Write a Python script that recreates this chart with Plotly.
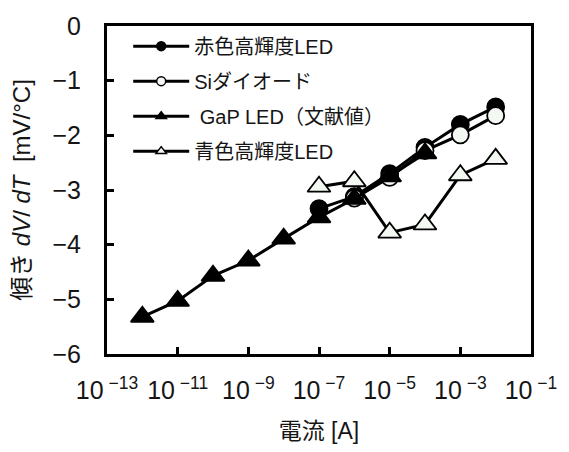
import plotly.graph_objects as go

# Forward-voltage temperature coefficient vs. drive current
red_x = [1e-7, 1e-6, 1e-5, 1e-4, 1e-3, 1e-2]
red_y = [-3.34, -3.12, -2.70, -2.22, -1.80, -1.48]

si_x = [1e-6, 1e-5, 1e-4, 1e-3, 1e-2]
si_y = [-3.15, -2.77, -2.28, -1.99, -1.64]

gap_x = [1e-12, 1e-11, 1e-10, 1e-9, 1e-8, 1e-7, 1e-6, 1e-5, 1e-4]
gap_y = [-5.32, -5.03, -4.57, -4.29, -3.89, -3.50, -3.16, -2.75, -2.33]

blue_x = [1e-7, 1e-6, 1e-5, 1e-4, 1e-3, 1e-2]
blue_y = [-2.94, -2.84, -3.78, -3.63, -2.73, -2.43]

series_names = ["赤色高輝度LED", "Siダイオード", " GaP LED（文献値）", "青色高輝度LED"]

x_tick_vals = [1e-13, 1e-11, 1e-9, 1e-7, 1e-5, 1e-3, 1e-1]
x_tick_text = ["10<sup> −13</sup>", "10<sup> −11</sup>", "10<sup> −9</sup>", "10<sup> −7</sup>",
               "10<sup> −5</sup>", "10<sup> −3</sup>", "10<sup> −1</sup>"]
y_tick_vals = [0, -1, -2, -3, -4, -5, -6]
y_tick_text = ["0", "−1", "−2", "−3", "−4", "−5", "−6"]

FONT = "Liberation Sans Narrow, Liberation Sans, Noto Sans CJK JP"
TEXT_COLOR = "#151515"
OPEN_FILL = "#f3f8f2"

styles = [
    dict(symbol="circle", color="black", size=17),
    dict(symbol="circle", color=OPEN_FILL, size=17),
    dict(symbol="triangle-up", color="black", size=20),
    dict(symbol="triangle-up", color=OPEN_FILL, size=20),
]
data = [(red_x, red_y), (si_x, si_y), (gap_x, gap_y), (blue_x, blue_y)]

fig = go.Figure()

for (xs, ys), st in zip(data, styles):
    fig.add_trace(go.Scatter(
        x=xs, y=ys, mode="lines+markers", showlegend=False,
        line=dict(color="black", width=3),
        marker=dict(symbol=st["symbol"], size=st["size"], color=st["color"],
                    line=dict(color="black", width=1.8)),
    ))

# legend entries with smaller symbols
for i, (name, st) in enumerate(zip(series_names, styles)):
    fig.add_trace(go.Scatter(
        x=[None], y=[None], mode="lines+markers", name=name,
        legendgroup=f"g{i}",
        line=dict(color="black", width=3),
        marker=dict(symbol=st["symbol"], size=9, color=st["color"],
                    line=dict(color="black", width=1.5)),
    ))

fig.update_layout(
    width=569, height=452,
    margin=dict(l=107, r=31, t=16, b=94),
    paper_bgcolor="white", plot_bgcolor="white",
    font=dict(family=FONT, color=TEXT_COLOR, size=20),
    showlegend=True,
    legend=dict(
        x=0.05, y=0.998, xanchor="left", yanchor="top",
        bgcolor="rgba(0,0,0,0)", borderwidth=0,
        itemwidth=56, tracegroupgap=6, traceorder="grouped",
        font=dict(family=FONT, size=20, color=TEXT_COLOR),
        itemclick=False,
    ),
)

fig.update_xaxes(
    type="log", range=[-13, -1],
    tickvals=x_tick_vals, ticktext=x_tick_text,
    ticks="inside", ticklen=7, tickwidth=2.5, tickcolor="black",
    showline=True, linewidth=3, linecolor="black", mirror=True,
    showgrid=False, zeroline=False,
    tickfont=dict(family=FONT, size=25, color=TEXT_COLOR),
    ticklabelstandoff=12,
    title=dict(text="電流 [A]", font=dict(family=FONT, size=23, color=TEXT_COLOR), standoff=20),
)

fig.update_yaxes(
    range=[-6, 0],
    tickvals=y_tick_vals, ticktext=y_tick_text,
    ticks="inside", ticklen=7, tickwidth=2.5, tickcolor="black",
    showline=True, linewidth=3, linecolor="black", mirror=True,
    showgrid=False, zeroline=False,
    tickfont=dict(family=FONT, size=25, color=TEXT_COLOR),
    ticklabelstandoff=18,
    title=dict(text="傾き <i>dV</i>/ <i>dT</i>  [mV/°C]",
               font=dict(family=FONT, size=24, color=TEXT_COLOR), standoff=16),
)

fig.write_html("out.html")
